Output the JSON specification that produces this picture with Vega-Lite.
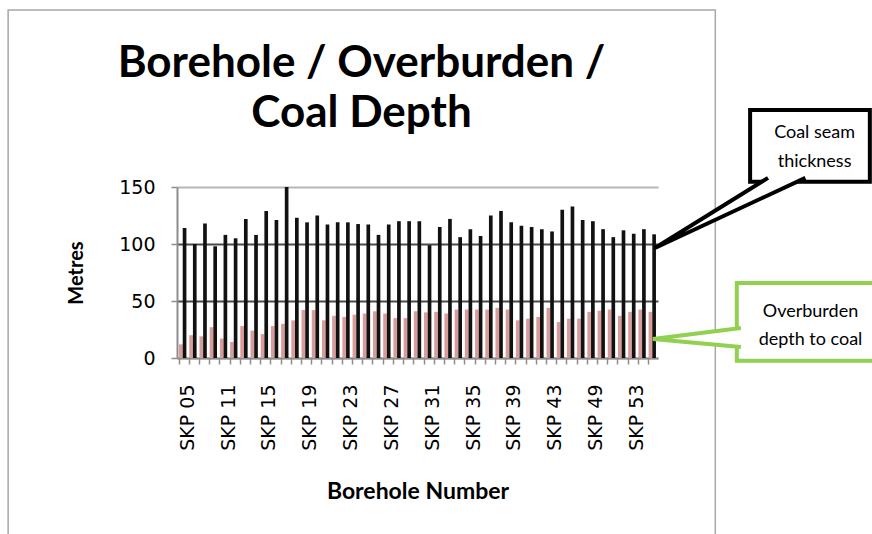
{
  "$schema": "https://vega.github.io/schema/vega-lite/v6.json",
  "autosize": "none",
  "width": 481,
  "height": 171,
  "padding": {"left": 177, "top": 187, "right": 214, "bottom": 176},
  "background": "white",
  "config": {"view": {"stroke": null}},
  "title": {
    "text": ["Borehole / Overburden /", "Coal Depth"],
    "font": "Lato",
    "fontSize": 44,
    "fontWeight": "bold",
    "color": "black",
    "anchor": "middle",
    "baseline": "bottom",
    "dx": -56,
    "lineHeight": 50,
    "offset": -171
  },
  "datasets": {
    "boreholes": [
      {"bh": "SKP 05", "overburden": 12, "depth": 114},
      {"bh": "SKP 06", "overburden": 20, "depth": 100},
      {"bh": "SKP 08", "overburden": 19, "depth": 118},
      {"bh": "SKP 09", "overburden": 27, "depth": 98},
      {"bh": "SKP 11", "overburden": 17, "depth": 108},
      {"bh": "SKP 12", "overburden": 14, "depth": 105},
      {"bh": "SKP 13", "overburden": 28, "depth": 122},
      {"bh": "SKP 14", "overburden": 24, "depth": 108},
      {"bh": "SKP 15", "overburden": 21, "depth": 129},
      {"bh": "SKP 16", "overburden": 28, "depth": 121},
      {"bh": "SKP 17", "overburden": 30, "depth": 150},
      {"bh": "SKP 18", "overburden": 33, "depth": 123},
      {"bh": "SKP 19", "overburden": 42, "depth": 119},
      {"bh": "SKP 20", "overburden": 42, "depth": 125},
      {"bh": "SKP 21", "overburden": 33, "depth": 117},
      {"bh": "SKP 22", "overburden": 37, "depth": 119},
      {"bh": "SKP 23", "overburden": 36, "depth": 119},
      {"bh": "SKP 24", "overburden": 38, "depth": 117.5},
      {"bh": "SKP 25", "overburden": 39, "depth": 117},
      {"bh": "SKP 26", "overburden": 41, "depth": 108},
      {"bh": "SKP 27", "overburden": 39, "depth": 117},
      {"bh": "SKP 28", "overburden": 35, "depth": 120},
      {"bh": "SKP 29", "overburden": 35, "depth": 120},
      {"bh": "SKP 30", "overburden": 41, "depth": 120},
      {"bh": "SKP 31", "overburden": 40, "depth": 99},
      {"bh": "SKP 32", "overburden": 40.5, "depth": 115},
      {"bh": "SKP 33", "overburden": 39, "depth": 122},
      {"bh": "SKP 34", "overburden": 42.5, "depth": 106},
      {"bh": "SKP 35", "overburden": 42.5, "depth": 113},
      {"bh": "SKP 36", "overburden": 42.5, "depth": 107},
      {"bh": "SKP 37", "overburden": 42.5, "depth": 125},
      {"bh": "SKP 38", "overburden": 44, "depth": 129},
      {"bh": "SKP 39", "overburden": 42.5, "depth": 119},
      {"bh": "SKP 40", "overburden": 33, "depth": 116},
      {"bh": "SKP 41", "overburden": 34.5, "depth": 115},
      {"bh": "SKP 42", "overburden": 36, "depth": 113},
      {"bh": "SKP 43", "overburden": 44, "depth": 111},
      {"bh": "SKP 44", "overburden": 31.5, "depth": 130},
      {"bh": "SKP 46", "overburden": 34.5, "depth": 133},
      {"bh": "SKP 47", "overburden": 34.5, "depth": 121},
      {"bh": "SKP 49", "overburden": 40.5, "depth": 120},
      {"bh": "SKP 50", "overburden": 41.5, "depth": 113},
      {"bh": "SKP 51", "overburden": 42.5, "depth": 106},
      {"bh": "SKP 52", "overburden": 37, "depth": 112},
      {"bh": "SKP 53", "overburden": 40.5, "depth": 109},
      {"bh": "SKP 54", "overburden": 42.5, "depth": 113},
      {"bh": "SKP 55", "overburden": 40.5, "depth": 108.5}
    ],
    "frame": [
      {"x1": -16.5, "x2": 52.6, "y1": 305.3, "y2": -170}
    ],
    "boxes": [
      {"box": "coal", "x1": 56.0, "x2": 67.7, "y1": 217.5, "y2": 154.5},
      {"box": "over", "x1": 54.7, "x2": 68.6, "y1": 65.8, "y2": -2.5}
    ],
    "wedges": [
      {"box": "coal", "k": 0, "u": 57.75, "m": 158.0},
      {"box": "coal", "k": 1, "u": 46.7, "m": 96.5},
      {"box": "coal", "k": 2, "u": 61.4, "m": 158.0},
      {"box": "over", "k": 0, "u": 55.1, "m": 26.3},
      {"box": "over", "k": 1, "u": 46.5, "m": 16.7},
      {"box": "over", "k": 2, "u": 55.1, "m": 9.6}
    ],
    "notes": [
      {"t": "Coal seam", "u": 62.3, "m": 197.4},
      {"t": "thickness", "u": 62.3, "m": 171.9},
      {"t": "Overburden", "u": 61.9, "m": 40.4},
      {"t": "depth to coal", "u": 61.9, "m": 15.8}
    ]
  },
  "layer": [
    {
      "data": {"name": "boreholes"},
      "transform": [{"fold": ["overburden", "depth"], "as": ["series", "metres"]}],
      "mark": {"type": "bar"},
      "encoding": {
        "x": {
          "field": "bh",
          "type": "nominal",
          "sort": null,
          "scale": {"paddingInner": 0.28, "paddingOuter": 0.2},
          "axis": {
            "title": "Borehole Number",
            "titleFont": "Lato",
            "titleFontSize": 23,
            "titleFontWeight": "bold",
            "titleColor": "black",
            "titlePadding": 30,
            "labelAngle": 270,
            "labelFont": "DejaVu Sans",
            "labelFontSize": 19,
            "labelColor": "black",
            "labelOverlap": false,
            "labelPadding": 20,
            "labelExpr": "indexof(['SKP 05','SKP 11','SKP 15','SKP 19','SKP 23','SKP 27','SKP 31','SKP 35','SKP 39','SKP 43','SKP 49','SKP 53'], datum.value) >= 0 ? datum.value : ''",
            "bandPosition": 0,
            "labelOffset": 5,
            "tickColor": "#8c8c8c",
            "tickSize": 6,
            "tickWidth": 1.5,
            "domainColor": "#8c8c8c",
            "domainWidth": 2,
            "grid": false
          }
        },
        "xOffset": {"field": "series", "type": "nominal", "sort": ["overburden", "depth"]},
        "y": {
          "field": "metres",
          "type": "quantitative",
          "scale": {"domain": [0, 150], "nice": false},
          "axis": {
            "title": "Metres",
            "values": [0, 50, 100, 150],
            "titleFont": "Lato",
            "titleFontSize": 20,
            "titleFontWeight": "bold",
            "titleColor": "black",
            "titlePadding": 32,
            "labelFont": "DejaVu Sans",
            "labelFontSize": 19,
            "labelColor": "black",
            "labelPadding": 16,
            "tickSize": 6,
            "tickColor": "#8c8c8c",
            "tickWidth": 1.5,
            "domainColor": "#8c8c8c",
            "domainWidth": 2,
            "grid": true,
            "gridColor": {"condition": {"test": "datum.value == 150 || datum.value == 0", "value": "#b5b5b5"}, "value": "#4a4a4a"},
            "gridWidth": 1.8
          }
        },
        "color": {
          "field": "series",
          "type": "nominal",
          "scale": {"domain": ["overburden", "depth"], "range": ["#D89C9A", "#111111"]},
          "legend": null
        }
      }
    },
    {
      "data": {"name": "frame"},
      "mark": {"type": "rect", "fill": null, "stroke": "#a8a8a8", "strokeWidth": 1.5},
      "encoding": {
        "x": {"field": "x1", "type": "quantitative", "scale": {"domain": [0, 47], "nice": false, "zero": false}, "axis": null},
        "x2": {"field": "x2"},
        "y": {"field": "y1", "type": "quantitative", "scale": {"domain": [0, 150], "nice": false}, "axis": null},
        "y2": {"field": "y2"}
      }
    },
    {
      "data": {"name": "boxes"},
      "mark": {"type": "rect", "fill": "white", "strokeWidth": 4},
      "encoding": {
        "x": {"field": "x1", "type": "quantitative", "scale": {"domain": [0, 47], "nice": false, "zero": false}, "axis": null},
        "x2": {"field": "x2"},
        "y": {"field": "y1", "type": "quantitative", "scale": {"domain": [0, 150], "nice": false}, "axis": null},
        "y2": {"field": "y2"},
        "stroke": {"field": "box", "type": "nominal", "scale": {"domain": ["coal", "over"], "range": ["#000000", "#92D050"]}, "legend": null}
      }
    },
    {
      "data": {"name": "wedges"},
      "mark": {"type": "line", "fill": "white", "strokeWidth": 4, "strokeJoin": "miter"},
      "encoding": {
        "x": {"field": "u", "type": "quantitative", "scale": {"domain": [0, 47], "nice": false, "zero": false}, "axis": null},
        "y": {"field": "m", "type": "quantitative", "scale": {"domain": [0, 150], "nice": false}, "axis": null},
        "order": {"field": "k", "type": "quantitative"},
        "detail": {"field": "box", "type": "nominal"},
        "stroke": {"field": "box", "type": "nominal", "scale": {"domain": ["coal", "over"], "range": ["#000000", "#92D050"]}, "legend": null}
      }
    },
    {
      "data": {"name": "notes"},
      "mark": {"type": "text", "font": "Lato", "fontSize": 18, "color": "black", "align": "center", "baseline": "middle"},
      "encoding": {
        "x": {"field": "u", "type": "quantitative", "scale": {"domain": [0, 47], "nice": false, "zero": false}, "axis": null},
        "y": {"field": "m", "type": "quantitative", "scale": {"domain": [0, 150], "nice": false}, "axis": null},
        "text": {"field": "t", "type": "nominal"}
      }
    }
  ],
  "resolve": {"scale": {"x": "independent", "y": "independent", "stroke": "independent"}, "axis": {"x": "independent", "y": "independent"}}
}
